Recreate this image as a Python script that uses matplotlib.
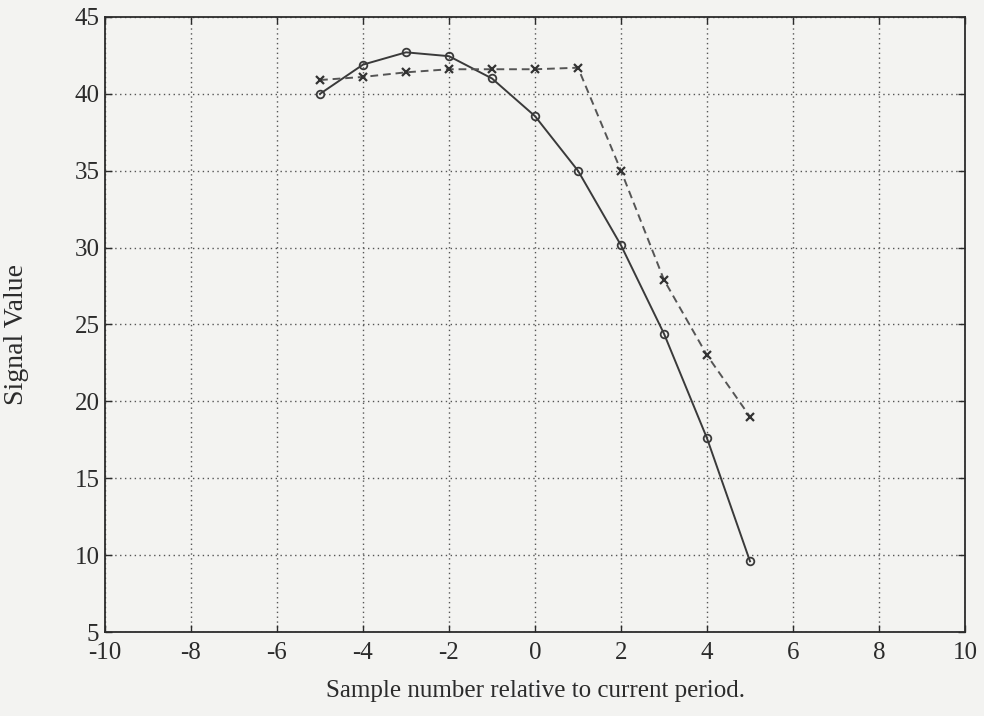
import matplotlib

matplotlib.use("Agg")
import matplotlib.pyplot as plt

# samples relative to current period
samples = [-5, -4, -3, -2, -1, 0, 1, 2, 3, 4, 5]
signal_o = [40.0, 41.9, 42.7, 42.45, 41.0, 38.55, 35.0, 30.15, 24.4, 17.6, 9.6]
signal_x = [40.9, 41.1, 41.4, 41.6, 41.6, 41.6, 41.7, 35.0, 27.9, 23.0, 19.0]

x_ticks = list(range(-10, 11, 2))
y_ticks = list(range(5, 46, 5))

BG = "#f3f3f1"
INK = "#2b2b2b"

plt.rcParams["font.family"] = ["Liberation Serif", "DejaVu Serif"]
plt.rcParams["axes.unicode_minus"] = False  # plain hyphens like the original

fig = plt.figure(figsize=(9.84, 7.16), dpi=100, facecolor=BG)
ax = fig.add_axes([0.1067, 0.1173, 0.8740, 0.8590], facecolor=BG)

ax.plot(samples, signal_o, color="#3a3a3a", lw=1.4, marker="o", ms=5.5,
        mfc="none", mec="#3a3a3a", mew=1.3, zorder=4)
ax.plot(samples, signal_x, color="#555555", lw=1.4, ls=(0, (4, 2.5)),
        marker="x", ms=6, mec="#333333", mew=1.6, zorder=4)

ax.set_xlim(-10, 10)
ax.set_ylim(5, 45)
ax.set_xticks(x_ticks)
ax.set_yticks(y_ticks)
ax.grid(True, color="#555555", ls=(0, (1, 2.5)), lw=1.0)
ax.tick_params(direction="in", top=True, right=True, length=5, width=1.0,
               labelsize=18, colors=INK)
ax.tick_params(axis="x", pad=7)
ax.tick_params(axis="y", pad=4)
for s in ax.spines.values():
    s.set_color(INK)
    s.set_linewidth(1.3)

ax.set_xlabel("Sample number relative to current period.", fontsize=18,
              color=INK)
ax.set_ylabel("Signal Value", fontsize=20, color=INK)
ax.xaxis.set_label_coords(0.5, -0.078)
ax.yaxis.set_label_coords(-0.088, 0.483)

fig.savefig("out.png", dpi=100, facecolor=BG)
